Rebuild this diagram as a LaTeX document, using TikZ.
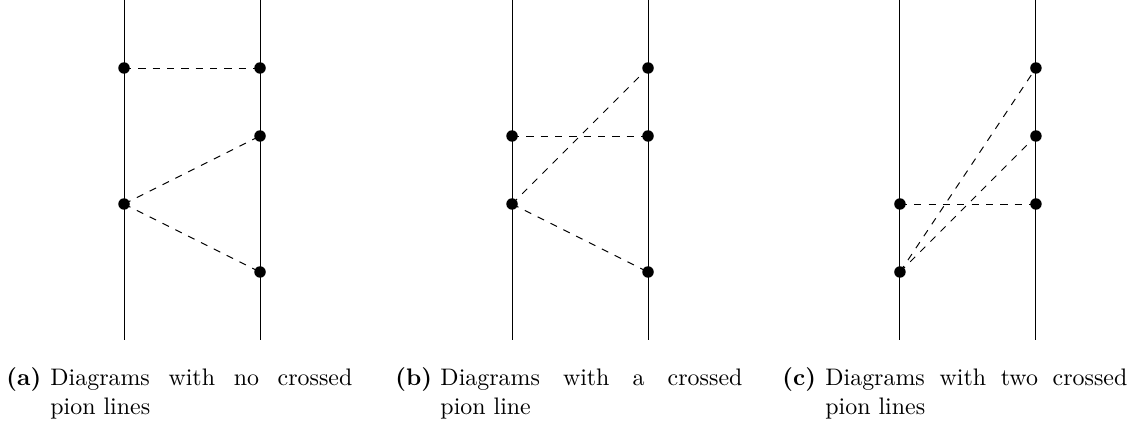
\documentclass[tikz,border=0pt]{standalone}
\tikzset{
  quark/.style={line width=0.4pt},
  pion/.style={dashed, line width=0.4pt},
  vtx/.style={circle, fill=black, inner sep=0pt, minimum size=4.8pt},
  sublabel/.style={anchor=base west, inner sep=0pt, font=\bfseries},
  subtext/.style={anchor=base west, inner sep=0pt, text width=4.44cm, align=justify}
}
\begin{document}
\begin{tikzpicture}
\useasboundingbox (0,0) rectangle (16.78,-6.294);
% ---------- (a) ----------
\coordinate (aLt) at (1.824,0); \coordinate (aLb) at (1.824,-5);
\coordinate (aRt) at (3.824,0); \coordinate (aRb) at (3.824,-5);
\draw[quark] (aLt) -- (aLb);
\draw[quark] (aRt) -- (aRb);
\node[vtx] (aL1) at (1.824,-1) {};
\node[vtx] (aR1) at (3.824,-1) {};
\node[vtx] (aR2) at (3.824,-2) {};
\node[vtx] (aL3) at (1.824,-3) {};
\node[vtx] (aR4) at (3.824,-4) {};
\draw[pion] (aL1.center) -- (aR1.center);
\draw[pion] (aL3.center) -- (aR2.center);
\draw[pion] (aL3.center) -- (aR4.center);
% ---------- (b) ----------
\coordinate (bLt) at (7.53,0); \coordinate (bLb) at (7.53,-5);
\coordinate (bRt) at (9.53,0); \coordinate (bRb) at (9.53,-5);
\draw[quark] (bLt) -- (bLb);
\draw[quark] (bRt) -- (bRb);
\node[vtx] (bR1) at (9.53,-1) {};
\node[vtx] (bL2) at (7.53,-2) {};
\node[vtx] (bR2) at (9.53,-2) {};
\node[vtx] (bL3) at (7.53,-3) {};
\node[vtx] (bR4) at (9.53,-4) {};
\draw[pion] (bL2.center) -- (bR2.center);
\draw[pion] (bL3.center) -- (bR1.center);
\draw[pion] (bL3.center) -- (bR4.center);
% ---------- (c) ----------
\coordinate (cLt) at (13.235,0); \coordinate (cLb) at (13.235,-5);
\coordinate (cRt) at (15.235,0); \coordinate (cRb) at (15.235,-5);
\draw[quark] (cLt) -- (cLb);
\draw[quark] (cRt) -- (cRb);
\node[vtx] (cR1) at (15.235,-1) {};
\node[vtx] (cR2) at (15.235,-2) {};
\node[vtx] (cL3) at (13.235,-3) {};
\node[vtx] (cR3) at (15.235,-3) {};
\node[vtx] (cL4) at (13.235,-4) {};
\draw[pion] (cL3.center) -- (cR3.center);
\draw[pion] (cL4.center) -- (cR1.center);
\draw[pion] (cL4.center) -- (cR2.center);
% ---------- captions ----------
\node[sublabel] (capa) at (0.088,-5.676) {(a)};
\node[subtext] (txta) at (0.735,-5.676) {Diagrams with no crossed\linebreak pion lines};
\node[sublabel] (capb) at (5.809,-5.676) {(b)};
\node[subtext] (txtb) at (6.471,-5.676) {Diagrams with a crossed\linebreak pion line};
\node[sublabel] (capc) at (11.5,-5.676) {(c)};
\node[subtext] (txtc) at (12.132,-5.676) {Diagrams with two crossed\linebreak pion lines};
\end{tikzpicture}
\end{document}
